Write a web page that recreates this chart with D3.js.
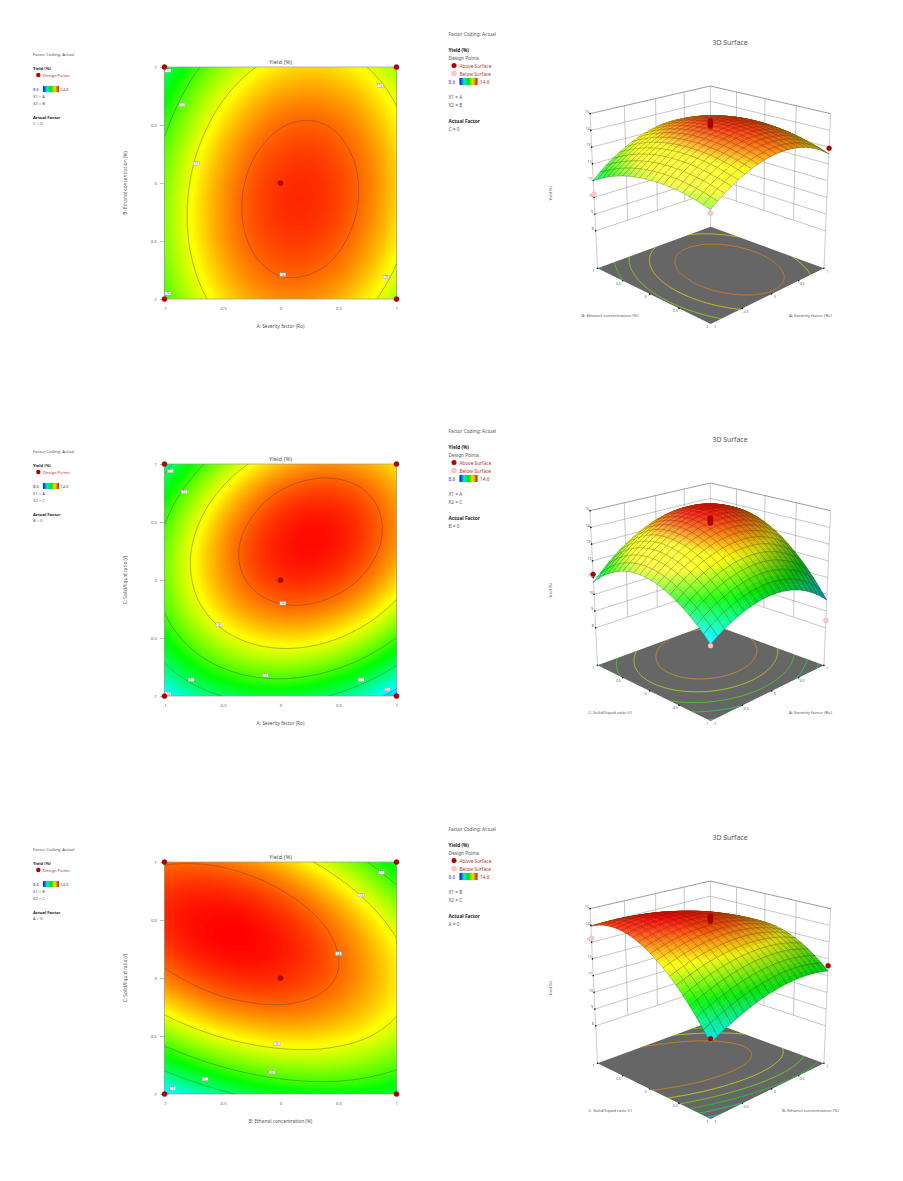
<!DOCTYPE html>
<html>
<head>
<meta charset="utf-8">
<script src="https://cdn.jsdelivr.net/npm/d3@7/dist/d3.min.js"></script>
<style>
html,body{margin:0;padding:0;background:#fff}
svg{display:block}
text{font-family:"Noto Sans",sans-serif;fill:#555}
</style>
</head>
<body>
<svg id="chart" width="903" height="1181"></svg>
<script>
// ---------- DATA (yield; rows run from second factor = +1 down to -1,
// columns from first factor = -1 to +1, in steps of 0.25)
const gridSteps = [-1,-0.75,-0.5,-0.25,0,0.25,0.5,0.75,1];
const yieldAB = [
 [11.01,11.84,12.48,12.94,13.23,13.33,13.25,12.99,12.54],
 [11.49,12.30,12.93,13.38,13.65,13.73,13.64,13.36,12.90],
 [11.87,12.66,13.28,13.71,13.97,14.04,13.93,13.63,13.16],
 [12.15,12.93,13.53,13.95,14.18,14.24,14.11,13.81,13.32],
 [12.32,13.09,13.67,14.08,14.30,14.34,14.20,13.88,13.38],
 [12.40,13.15,13.72,14.11,14.32,14.34,14.19,13.85,13.33],
 [12.38,13.11,13.67,14.04,14.23,14.24,14.07,13.72,13.19],
 [12.25,12.97,13.51,13.87,14.05,14.04,13.86,13.49,12.94],
 [12.02,12.73,13.26,13.60,13.76,13.74,13.54,13.16,12.60]
];
const yieldAC = [
 [10.72,11.69,12.47,13.06,13.47,13.69,13.72,13.56,13.22],
 [11.46,12.39,13.12,13.67,14.04,14.21,14.20,14.00,13.61],
 [11.96,12.84,13.54,14.04,14.36,14.49,14.44,14.19,13.76],
 [12.23,13.06,13.71,14.18,14.45,14.54,14.44,14.15,13.68],
 [12.25,13.04,13.65,14.07,14.30,14.34,14.20,13.87,13.35],
 [12.04,12.79,13.35,13.72,13.91,13.91,13.72,13.35,12.79],
 [11.58,12.29,12.81,13.14,13.28,13.24,13.01,12.59,11.98],
 [10.89,11.56,12.03,12.32,12.42,12.33,12.05,11.59,10.94],
 [ 9.96,10.58,11.01,11.26,11.31,11.18,10.86,10.35, 9.66]
];
const yieldBC = [
 [13.95,13.97,13.90,13.72,13.44,13.06,12.58,12.00,11.32],
 [14.28,14.37,14.35,14.24,14.02,13.71,13.29,12.77,12.15],
 [14.37,14.52,14.57,14.52,14.36,14.11,13.76,13.30,12.75],
 [14.22,14.44,14.55,14.56,14.47,14.28,13.98,13.59,13.10],
 [13.84,14.11,14.29,14.36,14.33,14.20,13.97,13.64,13.21],
 [13.21,13.55,13.79,13.92,13.96,13.89,13.72,13.45,13.09],
 [12.35,12.75,13.05,13.24,13.34,13.34,13.23,13.03,12.72],
 [11.25,11.71,12.07,12.33,12.49,12.55,12.51,12.36,12.12],
 [ 9.91,10.43,10.85,11.18,11.40,11.52,11.54,11.46,11.28]
];
const contourLevels = [10,11,12,13,14];
const floorLevelsAB = [11.2,11.9,12.5,13.2,13.84];
const floorLevelsAC = [10.1,11,11.9,12.8,13.68];
const floorLevelsBC = [10.2,10.9,11.6,12.3,13,13.75];
const colorDomain = [8.6,10.1,11.6,13.1,14.6];
const colorRange = ["#0000ff","#00ffff","#00ff00","#ffff00","#ff0000"];
const axisTicks = [-1,-0.5,0,0.5,1];
const zTicks = [8,9,10,11,12,13,14,15];
const zFloor = 5.76;
const cornerPoints = [[-1,-1],[1,-1],[-1,1],[1,1]];
const centerReplicates = [14.25,14.33,14.41,14.5,14.58];

const labelsAB = [[-0.97,0.97,11],[-0.85,0.675,12],[-0.727,0.167,13],[0.02,-0.79,14],[0.86,0.84,13],[0.91,-0.81,13],[-0.97,-0.95,12]];
const labelsAC = [[-0.95,0.94,11],[-0.83,0.76,12],[-0.53,-0.385,13],[0.02,-0.2,14],[-0.13,-0.82,12],[-0.77,-0.86,11],[-0.97,-0.98,10],[0.695,-0.86,11],[0.92,-0.94,10]];
const labelsBC = [[0.5,0.21,14],[0.695,0.715,13],[0.87,0.91,12],[-0.03,-0.566,13],[-0.075,-0.81,12],[-0.65,-0.87,11],[-0.93,-0.95,10]];

// corner design points in the 3D views: x, y, yield
const points3dAB = [[1,-1,12.93],[-1,1,10.18],[-1,-1,11.83],[1,1,12.3]];
const points3dAC = [[-1,1,11.2],[1,-1,8.45],[-1,-1,9.88],[1,1,13.0]];
const points3dBC = [[-1,1,13.23],[1,-1,11.59],[-1,-1,10.15],[1,1,11.0]];

const panels = [
 {dy:0,   grid:yieldAB, labels:labelsAB, pts:points3dAB, floor:floorLevelsAB, xName:"A: Severity factor (Ro)", yName:"B: Ethanol concentration (%)", x1:"A", x2:"B", fixed:"C = 0"},
 {dy:397, grid:yieldAC, labels:labelsAC, pts:points3dAC, floor:floorLevelsAC, xName:"A: Severity factor (Ro)", yName:"C: Solid/liquid ratio (/)", x1:"A", x2:"C", fixed:"B = 0"},
 {dy:795, grid:yieldBC, labels:labelsBC, pts:points3dBC, floor:floorLevelsBC, xName:"B: Ethanol concentration (%)", yName:"C: Solid/liquid ratio (/)", x1:"B", x2:"C", fixed:"A = 0"}
];

// ---------- HELPERS
const svg = d3.select("#chart");
const color = d3.scaleLinear().domain(colorDomain).range(colorRange).clamp(true);
const RED = "#b30000", TXTRED = "#b5332e", TXTBLUE = "#3a3acb";

const defs = svg.append("defs");
const grad = defs.append("linearGradient").attr("id","bar");
colorDomain.forEach((d,i)=>grad.append("stop").attr("offset",(i*25)+"%").attr("stop-color",d3.color(colorRange[i]).darker(i===2?0.35:0.25)));

function at(a,i){const n=a.length; if(i<0) return 3*a[0]-3*a[1]+a[2]; if(i>=n) return 3*a[n-1]-3*a[n-2]+a[n-3]; return a[i];}
function cr(a,f){
  const i=Math.min(Math.floor(f),a.length-2), t=f-i;
  const p0=at(a,i-1),p1=at(a,i),p2=at(a,i+1),p3=at(a,i+2);
  return 0.5*(2*p1+(p2-p0)*t+(2*p0-5*p1+4*p2-p3)*t*t+(3*p1-p0-3*p2+p3)*t*t*t);
}
const stepIndex = d3.scaleLinear().domain([gridSteps[0],gridSteps[8]]).range([0,8]);
function sample(grid,x,y){
  const fx=stepIndex(x), fy=stepIndex(-y);
  return cr(grid.map(r=>cr(r,fx)),fy);
}
const N = 117;
function field(grid){
  const v=new Array(N*N);
  for(let r=0;r<N;r++)for(let c=0;c<N;c++) v[r*N+c]=sample(grid,-1+2*c/(N-1),1-2*r/(N-1));
  return v;
}
const cx2d=c=>Math.max(-1,Math.min(1,(c-0.5)/(N-1)*2-1));
const cy2d=c=>Math.max(-1,Math.min(1,1-(c-0.5)/(N-1)*2));

function fillPath(geom,map){
  let d="";
  geom.coordinates.forEach(poly=>poly.forEach(ring=>{
    ring.forEach((p,i)=>{const q=map(cx2d(p[0]),cy2d(p[1])); d+=(i?"L":"M")+q[0].toFixed(2)+","+q[1].toFixed(2);});
    d+="Z";
  }));
  return d;
}
function linePath(geom,map){
  let d="";
  const edge=(a,b)=>(Math.abs(a[0])>=0.9999&&a[0]===b[0])||(Math.abs(a[1])>=0.9999&&a[1]===b[1]);
  geom.coordinates.forEach(poly=>poly.forEach(ring=>{
    let pen=false;
    for(let i=0;i<ring.length-1;i++){
      const a=[cx2d(ring[i][0]),cy2d(ring[i][1])], b=[cx2d(ring[i+1][0]),cy2d(ring[i+1][1])];
      if(edge(a,b)){pen=false;continue;}
      const qa=map(a[0],a[1]),qb=map(b[0],b[1]);
      if(!pen) d+="M"+qa[0].toFixed(2)+","+qa[1].toFixed(2);
      d+="L"+qb[0].toFixed(2)+","+qb[1].toFixed(2);
      pen=true;
    }
  }));
  return d;
}
function txt(g,x,y,s,size,opt={}){
  const t=g.append("text").attr("x",x).attr("y",y).attr("font-size",size).attr("dominant-baseline","central").text(s);
  if(opt.anchor) t.attr("text-anchor",opt.anchor);
  if(opt.fill) t.style("fill",opt.fill);
  if(opt.bold) t.attr("font-weight",700);
  if(opt.rotate) t.attr("transform",`rotate(-90 ${x} ${y})`);
  return t;
}

// ---------- 2D CONTOUR PANEL
function contourPanel(p,vals){
  const g=svg.append("g").attr("transform",`translate(0,${p.dy})`);
  const X=d3.scaleLinear().domain([-1,1]).range([164.5,396.5]);
  const Y=d3.scaleLinear().domain([-1,1]).range([299,67]);
  const map=(a,b)=>[X(a),Y(b)];
  g.append("rect").attr("x",X(-1)).attr("y",Y(1)).attr("width",X(1)-X(-1)).attr("height",Y(-1)-Y(1)).attr("fill",color(d3.min(vals)));
  const bands=d3.range(8.6,14.62,0.02);
  const gen=d3.contours().size([N,N]);
  g.append("g").selectAll("path").data(gen.thresholds(bands)(vals)).join("path")
    .attr("d",d=>fillPath(d,map)).attr("fill",d=>color(d.value+0.01)).attr("fill-rule","evenodd");
  g.append("g").selectAll("path").data(gen.thresholds(contourLevels)(vals)).join("path")
    .attr("d",d=>linePath(d,map)).attr("fill","none").attr("stroke","#3c3c3c").attr("stroke-opacity",0.75).attr("stroke-width",0.5);
  g.append("rect").attr("x",X(-1)).attr("y",Y(1)).attr("width",X(1)-X(-1)).attr("height",Y(-1)-Y(1)).attr("fill","none").attr("stroke","#999").attr("stroke-width",0.7);
  // axes
  const ax=g.append("g").attr("transform",`translate(0,${Y(-1)})`).call(d3.axisBottom(X).tickValues(axisTicks).tickFormat(String).tickSize(0).tickPadding(8));
  ax.select(".domain").remove(); ax.selectAll("text").attr("font-size",4.2).style("font-family",'"Noto Sans",sans-serif').style("fill","#555");
  const ay=g.append("g").attr("transform",`translate(${X(-1)},0)`).call(d3.axisLeft(Y).tickValues(axisTicks).tickFormat(String).tickSize(4.5).tickPadding(3));
  ay.select(".domain").remove(); ay.selectAll("line").attr("stroke","#777").attr("stroke-width",0.45);
  ay.selectAll("text").attr("font-size",4.2).style("font-family",'"Noto Sans",sans-serif').style("fill","#555");
  txt(g,280.5,61.7,"Yield (%)",5.8,{anchor:"middle"});
  txt(g,280.5,326,p.xName,4.8,{anchor:"middle"});
  txt(g,125,183,p.yName,4.8,{anchor:"middle",rotate:true});
  // contour labels
  const lab=g.append("g").selectAll("g").data(p.labels).join("g").attr("transform",d=>`translate(${X(d[0])},${Y(d[1])})`);
  lab.append("rect").attr("x",-3).attr("y",-1.8).attr("width",6).attr("height",3.6).attr("fill","#fff").attr("stroke","#888").attr("stroke-width",0.35);
  lab.append("text").attr("text-anchor","middle").attr("dominant-baseline","central").attr("font-size",2.8).text(d=>d[2]);
  // design points
  g.append("g").selectAll("circle").data(cornerPoints.concat([[0,0]])).join("circle")
    .attr("cx",d=>X(d[0])).attr("cy",d=>Y(d[1])).attr("r",2.6).attr("fill",RED).attr("stroke","#8c1010").attr("stroke-width",0.35);
  txt(g,X(0)-4.5,Y(0),"5",2.6,{anchor:"middle"});
}

// ---------- 3D PANEL: floor and top frame are projective quads
const proj3d={yOff:20,cx:710.7,half:113.2,yFloor:248.33,eF:11.95,pF:-0.1438,cxT:710.3,halfT:120.3,yTop:93.67,eT:14.6,pT:-0.198};
const zW=d3.scaleLinear().domain([zFloor,15]).range([0,1]);
function project(x,y,z){
  const u=(x-y)/2,v=-(x+y)/2,P=proj3d,w=zW(z);
  const dF=1+P.pF*v,dT=1+P.pT*v;
  const fx=P.cx+P.half*u/dF, fy=P.yOff+(P.yFloor+P.eF*v)/dF;
  const tx=P.cxT+P.halfT*u/dT, ty=P.yOff+(P.yTop+P.eT*v)/dT;
  return [fx+(tx-fx)*w, fy+(ty-fy)*w];
}
const L=[-0.40,0.50,0.77], Hv=[-0.45,0.60,0.66];
function shade(grid,x,y,z){
  const e=0.02,x1=Math.min(1,x+e),x0=Math.max(-1,x-e),y1=Math.min(1,y+e),y0=Math.max(-1,y-e);
  const Sx=0.208*(sample(grid,x1,y)-sample(grid,x0,y))/(x1-x0),
        Sy=0.208*(sample(grid,x,y1)-sample(grid,x,y0))/(y1-y0);
  const nu=(-Sx+Sy)/Math.SQRT2,nv=(Sx+Sy)/Math.SQRT2,nl=Math.hypot(nu,nv,1);
  const d=Math.max(0,(nu*L[0]+nv*L[1]+L[2])/nl), h=Math.max(0,(nu*Hv[0]+nv*Hv[1]+Hv[2])/nl);
  const c=d3.rgb(color(z)), diff=0.38+0.72*d, sp=0.36*Math.pow(h,6);
  return `rgb(${Math.min(255,c.r*diff+255*sp)|0},${Math.min(255,c.g*diff+255*sp)|0},${Math.min(255,c.b*diff+255*sp)|0})`;
}
function poly(pts){return "M"+pts.map(q=>q[0].toFixed(2)+","+q[1].toFixed(2)).join("L")+"Z";}
function seg(pts){return "M"+pts.map(q=>q[0].toFixed(2)+","+q[1].toFixed(2)).join("L");}

function surfacePanel(p,vals){
  const g=svg.append("g").attr("transform",`translate(0,${p.dy})`);
  txt(g,730,42.5,"3D Surface",6.9,{anchor:"middle"});
  // floor
  g.append("path").attr("d",poly([project(-1,-1,zFloor),project(1,-1,zFloor),project(1,1,zFloor),project(-1,1,zFloor)])).attr("fill","#666");
  const gen=d3.contours().size([N,N]).thresholds(p.floor);
  g.append("g").selectAll("path").data(gen(vals)).join("path")
    .attr("d",d=>linePath(d,(a,b)=>project(a,b,zFloor))).attr("fill","none")
    .attr("stroke",d=>d3.interpolateRgb(color(d.value),"#666")(0.15)).attr("stroke-width",0.75);
  // walls
  const wall=g.append("g").attr("fill","none").attr("stroke","#8e8e8e").attr("stroke-width",0.5);
  zTicks.forEach(z=>{
    wall.append("path").attr("d",seg([project(-1,1,z),project(1,1,z),project(1,-1,z)])).attr("stroke",z===15?"#666":"#8e8e8e").attr("stroke-width",z===15?0.65:0.5);
  });
  [-0.5,0,0.5].forEach(t=>{
    wall.append("path").attr("d",seg([project(t,1,8),project(t,1,15)]));
    wall.append("path").attr("d",seg([project(1,t,8),project(1,t,15)]));
  });
  [[-1,1],[1,1],[1,-1]].forEach(c=>wall.append("path").attr("d",seg([project(c[0],c[1],zFloor),project(c[0],c[1],15)])).attr("stroke","#999"));
  // ticks on floor edges
  const tg=g.append("g");
  [-0.5,0,0.5,1].forEach(t=>{
    const a=project(-1,t,zFloor),b=project(t,-1,zFloor);
    tg.append("circle").attr("cx",a[0]).attr("cy",a[1]).attr("r",0.8).attr("fill","#111");
    tg.append("circle").attr("cx",b[0]).attr("cy",b[1]).attr("r",0.8).attr("fill","#111");
  });
  axisTicks.forEach(t=>{
    const a=project(-1,t,zFloor),b=project(t,-1,zFloor),s=String(t);
    txt(g,a[0]-4,a[1]+(t===-1?2.2:2.6),s,3.4,{anchor:"middle",fill:"#555"});
    txt(g,b[0]+(t===-1?4:3.3),b[1]+(t===-1?2.2:2.8),s,3.4,{anchor:"middle",fill:"#555"});
  });
  zTicks.forEach(z=>{
    const a=project(-1,1,z);
    tg.append("circle").attr("cx",a[0]).attr("cy",a[1]).attr("r",0.8).attr("fill","#111");
    txt(g,a[0]-3,a[1]-2.3,z,3.4,{anchor:"middle",fill:"#555"});
  });
  txt(g,610,315,p.yName,4.3,{anchor:"middle"});
  txt(g,810.5,315,p.xName,4.3,{anchor:"middle"});
  txt(g,551,193.3,"Yield (%)",3.6,{anchor:"middle",rotate:true});
  // hidden back design point
  const dot=(d,pale)=>{const q=project(d[0],d[1],d[2]);
    g.append("circle").attr("cx",q[0]).attr("cy",q[1]).attr("r",2.5).attr("fill",pale?"#ffc9c9":RED).attr("stroke",pale?"#d89a9a":"#8c1010").attr("stroke-width",0.35);};
  const corner=(x,y)=>p.pts.find(d=>d[0]===x&&d[1]===y);
  const aboveAt=d=>d[2]>=sample(p.grid,d[0],d[1]);
  dot(corner(1,1),!aboveAt(corner(1,1)));
  // surface, back to front
  const n=40,mesh=2,cells=[];
  for(let i=0;i<n;i++)for(let j=0;j<n;j++)cells.push([i,j]);
  cells.sort((a,b)=>(b[0]+b[1])-(a[0]+a[1]));
  const s=g.append("g");
  const xv=i=>-1+2*i/n;
  const Z=[];for(let i=0;i<=n;i++){Z.push([]);for(let j=0;j<=n;j++)Z[i].push(sample(p.grid,xv(i),xv(j)));}
  const P=(i,j)=>project(xv(i),xv(j),Z[i][j]);
  cells.forEach(([i,j])=>{
    const q=[P(i,j),P(i+1,j),P(i+1,j+1),P(i,j+1)];
    const xm=xv(i+0.5),ym=xv(j+0.5),col=shade(p.grid,xm,ym,(Z[i][j]+Z[i+1][j]+Z[i+1][j+1]+Z[i][j+1])/4);
    s.append("path").attr("d",poly(q)).attr("fill",col).attr("stroke",col).attr("stroke-width",0.35);
    let d="";
    if(i%mesh===0) d+=seg([q[0],q[3]]);
    if(j%mesh===0) d+=seg([q[0],q[1]]);
    if((i+1)%mesh===0) d+=seg([q[1],q[2]]);
    if((j+1)%mesh===0) d+=seg([q[3],q[2]]);
    if(d) s.append("path").attr("d",d).attr("fill","none").attr("stroke","#2a2a2a").attr("stroke-opacity",0.6).attr("stroke-width",0.42);
  });
  // design points
  centerReplicates.forEach(z=>dot([0,0,z],false));
  [[-1,1],[1,-1],[-1,-1]].forEach(c=>{const d=corner(c[0],c[1]);dot(d,!aboveAt(d));});
}

// ---------- LEGENDS
function legendLeft(p){
  const g=svg.append("g").attr("transform",`translate(0,${p.dy})`),f=4.15;
  txt(g,33,54,"Factor Coding: Actual",f);
  txt(g,33,68,"Yield (%)",f,{bold:true,fill:"#222"});
  g.append("circle").attr("cx",38.3).attr("cy",75).attr("r",2.2).attr("fill",RED);
  txt(g,43,75,"Design Points",f,{fill:TXTRED});
  txt(g,33,89,"8.6",f,{fill:TXTBLUE});
  g.append("rect").attr("x",43).attr("y",86).attr("width",16).attr("height",6).attr("fill","url(#bar)").attr("stroke","#999").attr("stroke-width",0.3);
  txt(g,60.5,89,"14.6",f,{fill:TXTRED});
  txt(g,33,96,"X1 = "+p.x1,f);
  txt(g,33,103,"X2 = "+p.x2,f);
  txt(g,33,117,"Actual Factor",f,{bold:true,fill:"#222"});
  txt(g,33,123.5,p.fixed,f);
}
function legendRight(p){
  const g=svg.append("g").attr("transform",`translate(0,${p.dy})`),f=4.75;
  txt(g,448.5,34,"Factor Coding: Actual",f);
  txt(g,448.5,49.5,"Yield (%)",f,{bold:true,fill:"#222"});
  txt(g,448.5,57.5,"Design Points",f);
  g.append("circle").attr("cx",454).attr("cy",65.5).attr("r",2.5).attr("fill",RED);
  txt(g,459.5,65.5,"Above Surface",f,{fill:TXTRED});
  g.append("circle").attr("cx",454).attr("cy",73.5).attr("r",2.5).attr("fill","#ffc9c9").attr("stroke","#d89a9a").attr("stroke-width",0.35);
  txt(g,459.5,73.5,"Below Surface",f,{fill:TXTRED});
  txt(g,448.5,81.5,"8.6",f,{fill:TXTBLUE});
  g.append("rect").attr("x",459.5).attr("y",78).attr("width",18).attr("height",7).attr("fill","url(#bar)").attr("stroke","#999").attr("stroke-width",0.3);
  txt(g,480,81.5,"14.6",f,{fill:TXTRED});
  txt(g,448.5,97,"X1 = "+p.x1,f);
  txt(g,448.5,105,"X2 = "+p.x2,f);
  txt(g,448.5,121,"Actual Factor",f,{bold:true,fill:"#222"});
  txt(g,448.5,129,p.fixed,f);
}

panels.forEach(p=>{
  const vals=field(p.grid);
  legendLeft(p);
  contourPanel(p,vals);
  legendRight(p);
  surfacePanel(p,vals);
});
</script>
</body>
</html>
